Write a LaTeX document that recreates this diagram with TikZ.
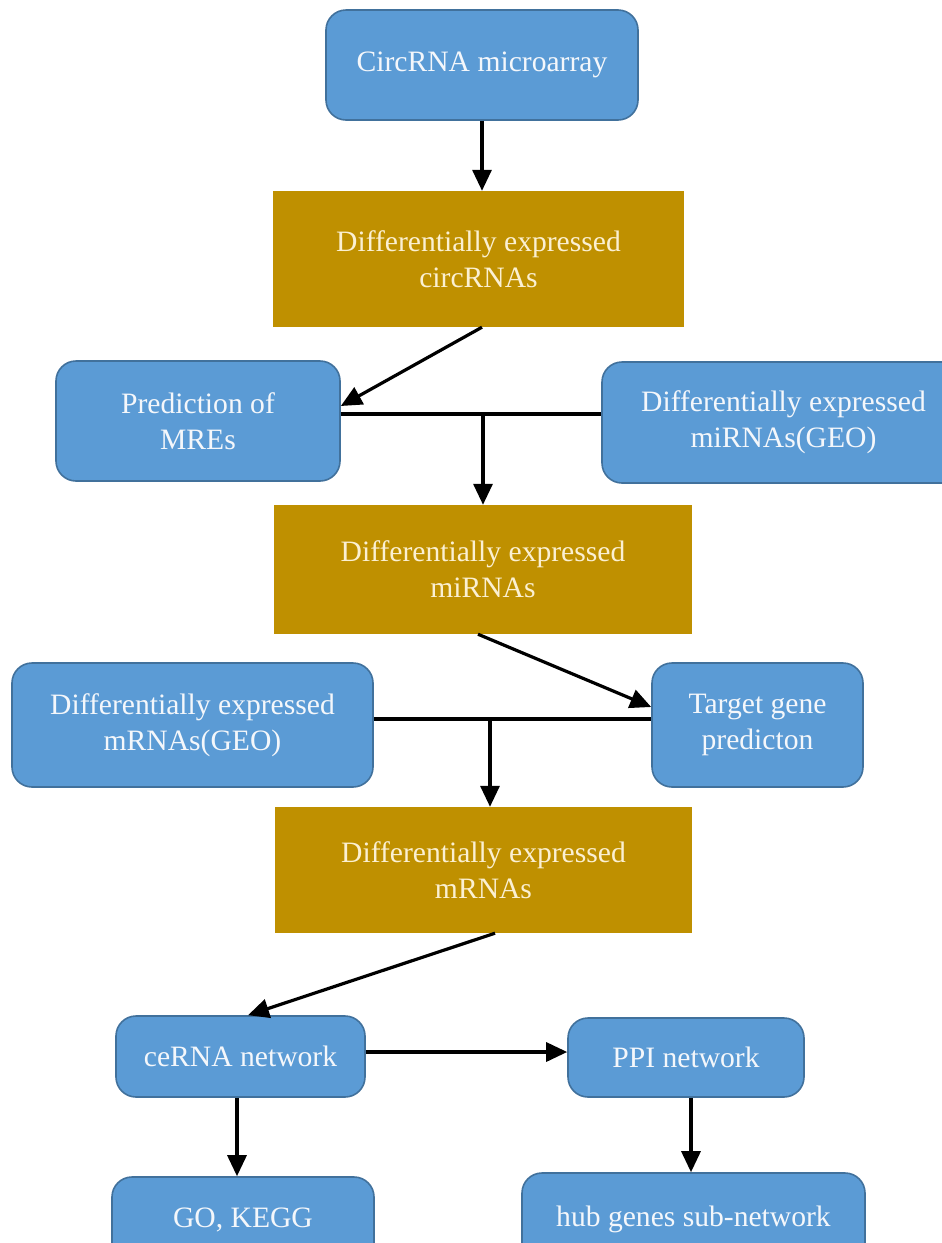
\documentclass[tikz,border=0pt]{standalone}
\usepackage{fontspec}
\setmainfont{Liberation Serif}
\usetikzlibrary{arrows.meta,calc}
\definecolor{boxblue}{HTML}{5B9BD5}
\definecolor{boxedge}{HTML}{41719C}
\definecolor{boxgold}{HTML}{BF9000}
\definecolor{bluetext}{HTML}{F4F7FB}
\definecolor{goldtext}{HTML}{FBF0D2}
\tikzset{
  bluebox/.style={rectangle, rounded corners=20pt, fill=boxblue, draw=boxedge, line width=1.6pt,
    text=bluetext, align=center, inner sep=0pt,
    font=\fontsize{29.6}{36}\selectfont},
  goldbox/.style={rectangle, fill=boxgold, draw=none,
    text=goldtext, align=center, inner sep=0pt,
    font=\fontsize{29.6}{36}\selectfont},
  arr/.style={line width=3.2pt, -{Triangle[length=21pt,width=19pt]}},
  plain/.style={line width=3.2pt}
}
\begin{document}
\begin{tikzpicture}[x=1pt,y=-1pt]
\useasboundingbox (0,0) rectangle (942,1243);
\fill[white] (0,0) rectangle (942,1243);

\node[bluebox, minimum width=312pt, minimum height=110pt] (n1) at (482,65) {CircRNA microarray};
\node[goldbox, minimum width=411pt, minimum height=136pt] (n2) at (478.5,259) {Differentially expressed\\circRNAs};
\node[bluebox, minimum width=284pt, minimum height=120pt] (n3) at (198,421) {Prediction of\\MREs};
\node[bluebox, minimum width=363pt, minimum height=121pt] (n4) at (783.5,422.5) {Differentially expressed\\miRNAs(GEO)};
\node[goldbox, minimum width=418pt, minimum height=129pt] (n5) at (483,569.5) {Differentially expressed\\miRNAs};
\node[bluebox, minimum width=361pt, minimum height=124pt] (n6) at (192.5,725) {Differentially expressed\\mRNAs(GEO)};
\node[bluebox, minimum width=211pt, minimum height=124pt] (n7) at (757.5,725) {Target gene\\predicton};
\node[goldbox, minimum width=417pt, minimum height=126pt] (n8) at (483.5,870) {Differentially expressed\\mRNAs};
\node[bluebox, minimum width=249pt, minimum height=81pt] (n9) at (240.5,1056.5) {ceRNA network};
\node[bluebox, minimum width=236pt, minimum height=79pt] (n10) at (686,1057.5) {PPI network};
\node[bluebox, minimum width=262pt, minimum height=86pt] (n11) at (243,1220) {GO, KEGG};
\node[bluebox, minimum width=343pt, minimum height=92pt] (n12) at (693.5,1219) {hub genes sub-network};

% connectors
\draw[arr] (n1.south) -- (n1.south |- n2.north);

\draw[arr] ($(n2.south)+(3.5,0)$) -- ($(n3.east)+(0,-15)$);
\coordinate (h1) at ($(n3.east)+(0,-7)$);
\draw[plain] (h1) -- (h1 -| n4.west);
\coordinate (j1) at (483,414);
\draw[arr] (j1) -- (j1 |- n5.north);

\draw[arr] ($(n5.south)+(-5,0)$) -- ($(n7.west)+(0,-18)$);
\coordinate (h2) at ($(n6.east)+(0,-6)$);
\draw[plain] (h2) -- (h2 -| n7.west);
\coordinate (j2) at (490,719);
\draw[arr] (j2) -- (j2 |- n8.north);

\draw[arr] ($(n8.south)+(11.5,0)$) -- ($(n9.north)+(7.5,0)$);

\coordinate (h3) at ($(n9.east)+(0,-4.5)$);
\draw[arr] (h3) -- (h3 -| n10.west);
\coordinate (v1) at ($(n9.south)+(-3.5,0)$);
\draw[arr] (v1) -- (v1 |- n11.north);
\coordinate (v2) at ($(n10.south)+(5,0)$);
\draw[arr] (v2) -- (v2 |- n12.north);
\end{tikzpicture}
\end{document}
